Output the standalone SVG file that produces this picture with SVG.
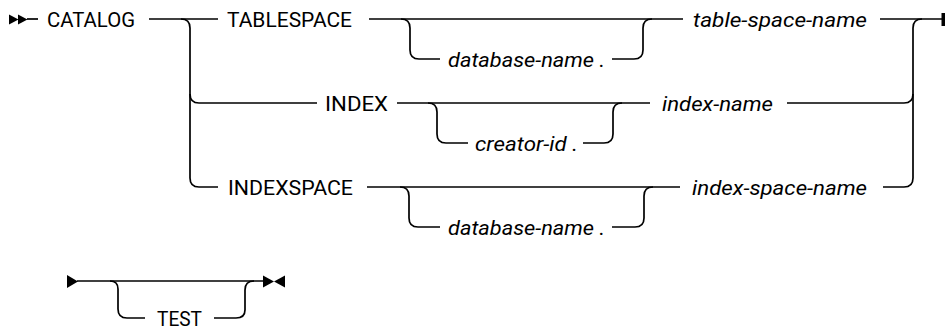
<svg xmlns="http://www.w3.org/2000/svg" width="946" height="330" viewBox="0 0 946 330">
<style>
.ln{fill:none;stroke:#000;stroke-width:1.7}
.kw{font-family:Roboto,"Liberation Sans",sans-serif;font-size:21px;fill:#000}
.var{font-family:Roboto,"Liberation Sans",sans-serif;font-size:21px;font-style:italic;fill:#000}
.mk{fill:#000}
</style>
<rect width="946" height="330" fill="#fff"/>
<g id="connectors">
<path class="ln" d="M27,19 H38"/>
<path class="ln" d="M149,19 H218"/>
<path class="ln" d="M369,19 H683"/>
<path class="ln" d="M880,19 H943"/>
<path class="ln" d="M181,19 Q190,19 190,28 V178 Q190,187 199,187 H218"/>
<path class="ln" d="M190,94 Q190,103 199,103 H317"/>
<path class="ln" d="M397,103 H650"/>
<path class="ln" d="M787,103 H904 Q913,103 913,94"/>
<path class="ln" d="M367,187 H680"/>
<path class="ln" d="M883,187 H904 Q913,187 913,178 V28 Q913,19 922,19"/>
<path class="ln" d="M401,19 Q410,19 410,28 V50 Q410,59 419,59 H440"/>
<path class="ln" d="M612,59 H634 Q643,59 643,50 V28 Q643,19 652,19"/>
<path class="ln" d="M428,103 Q437,103 437,112 V134 Q437,143 446,143 H468"/>
<path class="ln" d="M583,143 H604 Q613,143 613,134 V112 Q613,103 622,103"/>
<path class="ln" d="M400,187 Q409,187 409,196 V218 Q409,227 418,227 H440"/>
<path class="ln" d="M612,227 H635 Q644,227 644,218 V196 Q644,187 653,187"/>
<path class="ln" d="M77,281 H263"/>
<path class="ln" d="M110,281 Q118,281 118,289 V309 Q118,318 127,318 H145"/>
<path class="ln" d="M214,318 H236 Q245,318 245,310 V290 Q245,281 254,281"/>
<polygon class="mk" points="9,14.5 18.5,19.5 9,24.5"/>
<polygon class="mk" points="18,14.5 27.5,19.5 18,24.5"/>
<rect class="mk" x="941.5" y="13" width="3.5" height="13"/>
<polygon class="mk" points="67,275 78,281.5 67,288"/>
<polygon class="mk" points="263,275.5 274,281.5 263,287.5"/>
<polygon class="mk" points="285,275.5 274,281.5 285,287.5"/>
</g>
<g id="catalog"><text class="kw" x="47" y="26.5" textLength="88" lengthAdjust="spacingAndGlyphs">CATALOG</text></g>
<g id="tablespace"><text class="kw" x="227" y="26.5" textLength="125" lengthAdjust="spacingAndGlyphs">TABLESPACE</text></g>
<g id="db-name-1"><text class="var" x="448" y="66.5" textLength="157" lengthAdjust="spacingAndGlyphs">database-name .</text></g>
<g id="table-space-name"><text class="var" x="693" y="26.5" textLength="174" lengthAdjust="spacingAndGlyphs">table-space-name</text></g>
<g id="index"><text class="kw" x="325" y="110.5" textLength="63" lengthAdjust="spacingAndGlyphs">INDEX</text></g>
<g id="creator-id"><text class="var" x="475" y="150.5" textLength="103" lengthAdjust="spacingAndGlyphs">creator-id .</text></g>
<g id="index-name"><text class="var" x="662" y="110.5" textLength="111" lengthAdjust="spacingAndGlyphs">index-name</text></g>
<g id="indexspace"><text class="kw" x="228" y="194.5" textLength="125" lengthAdjust="spacingAndGlyphs">INDEXSPACE</text></g>
<g id="db-name-2"><text class="var" x="448" y="234.5" textLength="157" lengthAdjust="spacingAndGlyphs">database-name .</text></g>
<g id="index-space-name"><text class="var" x="692" y="194.5" textLength="175" lengthAdjust="spacingAndGlyphs">index-space-name</text></g>
<g id="test"><text class="kw" x="157" y="325.5" textLength="45" lengthAdjust="spacingAndGlyphs">TEST</text></g>
</svg>
